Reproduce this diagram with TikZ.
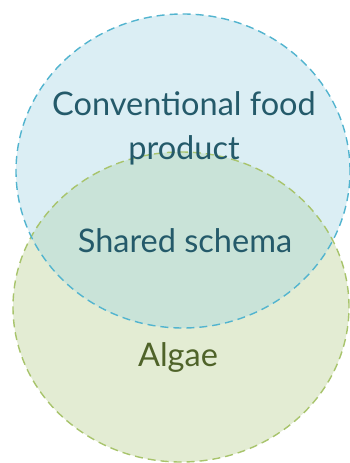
\documentclass[tikz,border=0pt]{standalone}
\usepackage{fontspec}
\setmainfont{Lato}
\usetikzlibrary{shapes.geometric}
\definecolor{foodfill}{HTML}{DBEEF4}
\definecolor{foodline}{HTML}{52B4CF}
\definecolor{algfill}{HTML}{E3ECD3}
\definecolor{algline}{HTML}{A8C46C}
\definecolor{bothfill}{HTML}{C9E3D8}
\definecolor{foodtext}{HTML}{245A6A}
\definecolor{algtext}{HTML}{4F6329}
\tikzset{
  setshape/.style={ellipse, inner sep=0pt, dashed, dash pattern=on 8pt off 5pt, line width=1.4pt},
  label/.style={font=\fontsize{32.5}{44}\selectfont, align=center}
}
\begin{document}
\begin{tikzpicture}[x=1pt,y=1pt]
\useasboundingbox (0,0) rectangle (350,463);
% fills: algae set, food set, then their overlap
\fill[algfill] (181,156) ellipse [x radius=168, y radius=155];
\fill[foodfill] (183,292) ellipse [x radius=167, y radius=157];
\begin{scope}
  \clip (181,156) ellipse [x radius=168, y radius=155];
  \fill[bothfill] (183,292) ellipse [x radius=167, y radius=157];
\end{scope}
% dashed outlines
\node[setshape, draw=algline, minimum width=336pt, minimum height=310pt] (algae) at (181,156) {};
\node[setshape, draw=foodline, minimum width=334pt, minimum height=314pt] (food) at (183,292) {};
% labels
\node[label, text=foodtext] (foodlbl) at (184,335) {Conventional food\\product};
\node[label, text=foodtext] (shared) at (185,222) {Shared schema};
\node[label, text=algtext] (alglbl) at (178,106) {Algae};
\end{tikzpicture}
\end{document}
